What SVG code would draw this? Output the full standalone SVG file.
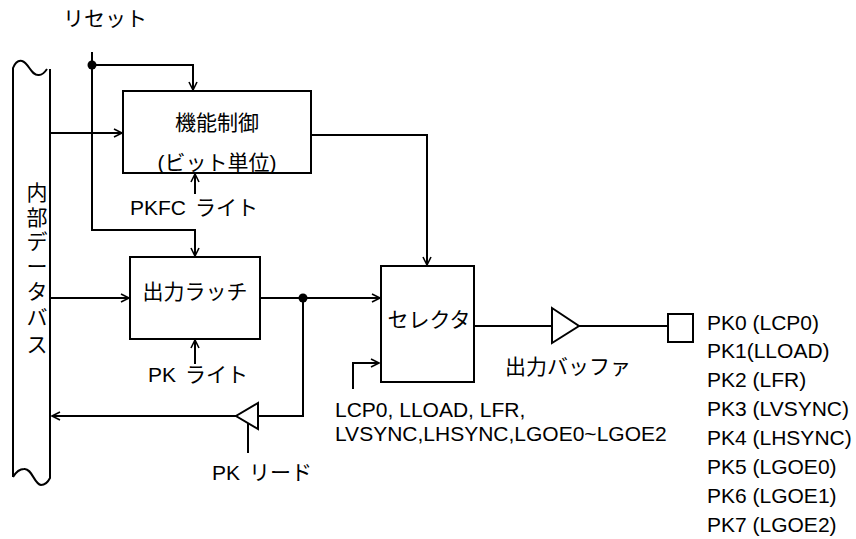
<svg xmlns="http://www.w3.org/2000/svg" width="856" height="539" viewBox="0 0 856 539">
<defs>
<style>
text{font-family:"Liberation Sans","Noto Sans CJK JP",sans-serif;font-size:21px;fill:#000}
.ln{fill:none;stroke:#000;stroke-width:2}
.box{fill:#fff;stroke:#000;stroke-width:2}
.mid{text-anchor:middle}
</style>
<marker id="arr" markerUnits="userSpaceOnUse" markerWidth="12" markerHeight="12" refX="9" refY="5" orient="auto">
<path d="M1,1 L9,5 L1,9" fill="none" stroke="#000" stroke-width="1.6"/>
</marker>
</defs>
<rect width="856" height="539" fill="#fff"/>
<g id="bus">
<path class="ln" d="M13,477 V68 C15,63 18,60 22,61 C29,63 31,76 39,75 C43,75 45,72 47,69"/>
<path class="ln" d="M50,69 V478 C48,482 46,485 41,485 C34,484 32,468 24,469 C19,469 16,472 13,477"/>
<text class="mid" x="37" y="200">内</text>
<text class="mid" x="37" y="225">部</text>
<text class="mid" x="37" y="249">デ</text>
<text class="mid" x="37" y="274">ー</text>
<text class="mid" x="37" y="299">タ</text>
<text class="mid" x="37" y="325">バ</text>
<text class="mid" x="37" y="352">ス</text>
</g>
<g id="reset-label"><text x="63" y="26">リセット</text></g>
<g id="kinou">
<rect class="box" x="123" y="91" width="188" height="82"/>
<text class="mid" x="217" y="130">機能制御</text>
<text class="mid" x="217" y="170">(ビット単位)</text>
</g>
<g id="pkfc-label"><text x="130" y="215">PKFC<tspan x="195">ライト</tspan></text></g>
<g id="latch">
<rect class="box" x="130" y="257" width="130" height="82"/>
<text class="mid" x="195" y="299">出力ラッチ</text>
</g>
<g id="pk-write-label"><text x="148" y="382">PK<tspan x="185">ライト</tspan></text></g>
<g id="selector">
<rect class="box" x="381" y="266" width="93" height="116"/>
<text class="mid" x="429" y="327">セレクタ</text>
</g>
<g id="read-buffer"><polygon class="box" points="258,403 258,429 236,416"/></g>
<g id="pk-read-label"><text x="212" y="480">PK<tspan x="249">リード</tspan></text></g>
<g id="out-buffer">
<polygon class="box" points="552,308 552,343 579,326"/>
<text class="mid" x="568" y="374">出力バッファ</text>
</g>
<g id="pin"><rect class="box" x="668" y="314" width="25" height="28"/></g>
<g id="sel-inputs">
<text x="335" y="417">LCP0, LLOAD, LFR,</text>
<text x="335" y="441">LVSYNC,LHSYNC,LGOE0~LGOE2</text>
</g>
<g id="pk-list">
<text x="707" y="330">PK0 (LCP0)</text>
<text x="707" y="358">PK1(LLOAD)</text>
<text x="707" y="387">PK2 (LFR)</text>
<text x="707" y="416">PK3 (LVSYNC)</text>
<text x="707" y="445">PK4 (LHSYNC)</text>
<text x="707" y="474">PK5 (LGOE0)</text>
<text x="707" y="503">PK6 (LGOE1)</text>
<text x="707" y="532">PK7 (LGOE2)</text>
</g>
<g id="connectors">
<path class="ln" d="M92,52 V230 H195 V256" marker-end="url(#arr)"/>
<path class="ln" d="M92,65 H193 V90" marker-end="url(#arr)"/>
<circle cx="92" cy="65" r="4.5" fill="#000"/>
<path class="ln" d="M50,133 H122" marker-end="url(#arr)"/>
<path class="ln" d="M195,194 V174" marker-end="url(#arr)"/>
<path class="ln" d="M311,135 H427 V265" marker-end="url(#arr)"/>
<path class="ln" d="M50,298 H129" marker-end="url(#arr)"/>
<path class="ln" d="M195,364 V340" marker-end="url(#arr)"/>
<path class="ln" d="M260,298 H380" marker-end="url(#arr)"/>
<circle cx="303" cy="298" r="4.5" fill="#000"/>
<path class="ln" d="M303,298 V416 H258"/>
<path class="ln" d="M236,416 H52" marker-end="url(#arr)"/>
<path class="ln" d="M248,423 V453"/>
<path class="ln" d="M353,389 V363 H379" marker-end="url(#arr)"/>
<path class="ln" d="M474,326 H552"/>
<path class="ln" d="M579,326 H668"/>
</g>
</svg>
